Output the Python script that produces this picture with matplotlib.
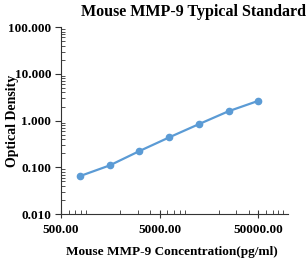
import numpy as np
import matplotlib.pyplot as plt
from matplotlib.ticker import FixedLocator, LogLocator, NullFormatter, FuncFormatter

plt.rcParams['font.family'] = ['Liberation Serif', 'DejaVu Serif']
plt.rcParams['font.weight'] = 'bold'

# standard curve
conc = [781.25, 1562.5, 3125, 6250, 12500, 25000, 50000]
od = [0.065, 0.110, 0.223, 0.437, 0.838, 1.585, 2.64]

x_ticks = [500, 5000, 50000]
y_ticks = [0.01, 0.1, 1, 10, 100]

fig = plt.figure(figsize=(3.06, 2.63), dpi=100)
ax = fig.add_axes([0.199, 0.186, 0.742, 0.711])

ax.plot(conc, od, color='#5b9bd5', lw=1.6, marker='o', ms=4.5, zorder=3)

ax.set_xscale('log')
ax.set_yscale('log')
ax.set_xlim(500, 100000)
ax.set_ylim(0.01, 100)

ax.xaxis.set_major_locator(FixedLocator(x_ticks))
ax.yaxis.set_major_locator(FixedLocator(y_ticks))
ax.xaxis.set_minor_locator(LogLocator(base=10, subs=np.arange(2, 10)))
ax.yaxis.set_minor_locator(LogLocator(base=10, subs=np.arange(2, 10)))
ax.xaxis.set_minor_formatter(NullFormatter())
ax.yaxis.set_minor_formatter(NullFormatter())
ax.xaxis.set_major_formatter(FuncFormatter(lambda v, p: f'{v:.2f}'))
ax.yaxis.set_major_formatter(FuncFormatter(lambda v, p: f'{v:.3f}'))

for s in ['top', 'right']:
    ax.spines[s].set_visible(False)
for s in ['left', 'bottom']:
    ax.spines[s].set_color('#333333')
    ax.spines[s].set_linewidth(0.8)

ax.tick_params(axis='x', which='major', direction='inout', length=6, width=0.8,
               labelsize=9.5, pad=4, colors='#333333', labelcolor='black')
ax.tick_params(axis='x', which='minor', direction='in', length=3, width=0.6, colors='#333333')
ax.tick_params(axis='y', which='major', direction='out', length=4, width=0.8,
               labelsize=9.5, pad=3, colors='#333333', labelcolor='black')
ax.tick_params(axis='y', which='minor', direction='in', length=3, width=0.6, colors='#333333')

ax.set_title('Mouse MMP-9 Typical Standard', fontsize=11.5, fontweight='bold', pad=8, x=0.585)
ax.set_xlabel('Mouse MMP-9 Concentration(pg/ml)', fontsize=9.5, fontweight='bold')
ax.set_ylabel('Optical Density', fontsize=10, fontweight='bold')
ax.xaxis.set_label_coords(0.487, -0.17)
ax.yaxis.set_label_coords(-0.186, 0.5)

fig.savefig('out.png', dpi=100)
